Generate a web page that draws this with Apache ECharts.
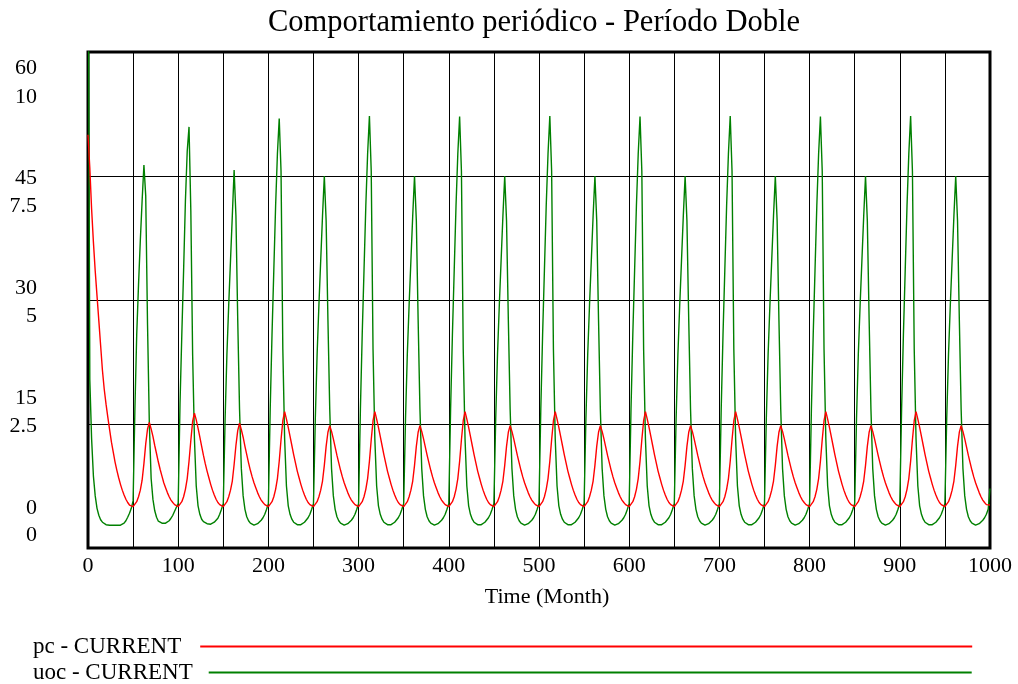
<!DOCTYPE html>
<html>
<head>
<meta charset="utf-8">
<title>Comportamiento periódico - Período Doble</title>
<script src="https://cdn.jsdelivr.net/npm/echarts@6/dist/echarts.min.js"></script>
<style>
  html, body { margin: 0; padding: 0; background: #fff; }
  #chart { width: 1018px; height: 684px; }
</style>
</head>
<body>
<div id="chart"></div>
<script>
// Simulation output sampled every 2 months, one row per 50-month cycle.
const SAMPLE_STEP = 2;

// pc (CURRENT run)
const pcValues = [
  50, 46, 41, 37, 33.5, 30.5, 27.5, 24.5, 21.5, 19.2, 17.4, 15.8, 14.3, 12.8, 11.6, 10.4, 9.4, 8.5, 7.7, 7.0, 6.4, 5.9, 5.5, 5.2, 5.05,
  5.0, 5.2, 5.6, 6.2, 7.0, 8.2, 10.2, 12.6, 14.4, 15.2, 14.4, 13.5, 12.4, 11.4, 10.4, 9.5, 8.7, 7.9, 7.3, 6.7, 6.2, 5.8, 5.5, 5.25, 5.08,
  5.0, 5.2, 5.6, 6.2, 7.1, 8.4, 10.5, 13.0, 15.3, 16.3, 15.5, 14.5, 13.4, 12.3, 11.2, 10.2, 9.3, 8.5, 7.7, 7.0, 6.4, 5.9, 5.5, 5.25, 5.08,
  5.0, 5.2, 5.6, 6.2, 7.0, 8.1, 10.1, 12.4, 14.2, 15.1, 14.3, 13.4, 12.3, 11.3, 10.3, 9.4, 8.6, 7.9, 7.3, 6.7, 6.2, 5.8, 5.5, 5.25, 5.08,
  5.0, 5.2, 5.6, 6.2, 7.1, 8.4, 10.5, 13.1, 15.4, 16.5, 15.6, 14.6, 13.5, 12.4, 11.3, 10.3, 9.3, 8.5, 7.7, 7.0, 6.4, 5.9, 5.5, 5.25, 5.08,
  5.0, 5.2, 5.6, 6.2, 7.0, 8.1, 10.0, 12.3, 14.0, 14.8, 14.1, 13.2, 12.2, 11.2, 10.3, 9.4, 8.6, 7.9, 7.3, 6.7, 6.2, 5.8, 5.5, 5.25, 5.08,
  5.0, 5.2, 5.6, 6.2, 7.1, 8.4, 10.5, 13.1, 15.4, 16.5, 15.6, 14.6, 13.5, 12.4, 11.3, 10.3, 9.3, 8.5, 7.7, 7.0, 6.4, 5.9, 5.5, 5.25, 5.08,
  5.0, 5.2, 5.6, 6.2, 7.0, 8.1, 10.0, 12.3, 14.0, 14.8, 14.1, 13.2, 12.2, 11.2, 10.3, 9.4, 8.6, 7.9, 7.3, 6.7, 6.2, 5.8, 5.5, 5.25, 5.08,
  5.0, 5.2, 5.6, 6.2, 7.1, 8.4, 10.5, 13.1, 15.4, 16.5, 15.6, 14.6, 13.5, 12.4, 11.3, 10.3, 9.3, 8.5, 7.7, 7.0, 6.4, 5.9, 5.5, 5.25, 5.08,
  5.0, 5.2, 5.6, 6.2, 7.0, 8.1, 10.0, 12.3, 14.0, 14.8, 14.1, 13.2, 12.2, 11.2, 10.3, 9.4, 8.6, 7.9, 7.3, 6.7, 6.2, 5.8, 5.5, 5.25, 5.08,
  5.0, 5.2, 5.6, 6.2, 7.1, 8.4, 10.5, 13.1, 15.4, 16.5, 15.6, 14.6, 13.5, 12.4, 11.3, 10.3, 9.3, 8.5, 7.7, 7.0, 6.4, 5.9, 5.5, 5.25, 5.08,
  5.0, 5.2, 5.6, 6.2, 7.0, 8.1, 10.0, 12.3, 14.0, 14.8, 14.1, 13.2, 12.2, 11.2, 10.3, 9.4, 8.6, 7.9, 7.3, 6.7, 6.2, 5.8, 5.5, 5.25, 5.08,
  5.0, 5.2, 5.6, 6.2, 7.1, 8.4, 10.5, 13.1, 15.4, 16.5, 15.6, 14.6, 13.5, 12.4, 11.3, 10.3, 9.3, 8.5, 7.7, 7.0, 6.4, 5.9, 5.5, 5.25, 5.08,
  5.0, 5.2, 5.6, 6.2, 7.0, 8.1, 10.0, 12.3, 14.0, 14.8, 14.1, 13.2, 12.2, 11.2, 10.3, 9.4, 8.6, 7.9, 7.3, 6.7, 6.2, 5.8, 5.5, 5.25, 5.08,
  5.0, 5.2, 5.6, 6.2, 7.1, 8.4, 10.5, 13.1, 15.4, 16.5, 15.6, 14.6, 13.5, 12.4, 11.3, 10.3, 9.3, 8.5, 7.7, 7.0, 6.4, 5.9, 5.5, 5.25, 5.08,
  5.0, 5.2, 5.6, 6.2, 7.0, 8.1, 10.0, 12.3, 14.0, 14.8, 14.1, 13.2, 12.2, 11.2, 10.3, 9.4, 8.6, 7.9, 7.3, 6.7, 6.2, 5.8, 5.5, 5.25, 5.08,
  5.0, 5.2, 5.6, 6.2, 7.1, 8.4, 10.5, 13.1, 15.4, 16.5, 15.6, 14.6, 13.5, 12.4, 11.3, 10.3, 9.3, 8.5, 7.7, 7.0, 6.4, 5.9, 5.5, 5.25, 5.08,
  5.0, 5.2, 5.6, 6.2, 7.0, 8.1, 10.0, 12.3, 14.0, 14.8, 14.1, 13.2, 12.2, 11.2, 10.3, 9.4, 8.6, 7.9, 7.3, 6.7, 6.2, 5.8, 5.5, 5.25, 5.08,
  5.0, 5.2, 5.6, 6.2, 7.1, 8.4, 10.5, 13.1, 15.4, 16.5, 15.6, 14.6, 13.5, 12.4, 11.3, 10.3, 9.3, 8.5, 7.7, 7.0, 6.4, 5.9, 5.5, 5.25, 5.08,
  5.0, 5.2, 5.6, 6.2, 7.0, 8.1, 10.0, 12.3, 14.0, 14.8, 14.1, 13.2, 12.2, 11.2, 10.3, 9.4, 8.6, 7.9, 7.3, 6.7, 6.2, 5.8, 5.5, 5.25, 5.08,
  5.2
];

// uoc (CURRENT run)
const uocValues = [
  14, 3.4, 2.2, 1.45, 1.05, 0.8, 0.66, 0.57, 0.52, 0.49, 0.47, 0.46, 0.46, 0.46, 0.46, 0.46, 0.46, 0.46, 0.46, 0.47, 0.5, 0.55, 0.62, 0.7, 0.8,
  0.95, 2.8, 4.3, 5.3, 6.2, 7.0, 7.72, 7.1, 4.5, 2.5, 1.4, 0.98, 0.75, 0.62, 0.54, 0.5, 0.5, 0.5, 0.5, 0.52, 0.55, 0.6, 0.66, 0.74, 0.82,
  0.9, 2.9, 4.3, 5.6, 7.0, 8.0, 8.49, 6.8, 3.9, 2.2, 1.25, 0.85, 0.68, 0.58, 0.53, 0.5, 0.49, 0.48, 0.48, 0.5, 0.52, 0.56, 0.6, 0.68, 0.78,
  0.9, 2.6, 3.9, 4.9, 5.8, 6.7, 7.62, 6.7, 4.6, 2.8, 1.6, 1.05, 0.78, 0.63, 0.55, 0.5, 0.47, 0.46, 0.47, 0.49, 0.52, 0.56, 0.61, 0.68, 0.78,
  0.9, 2.8, 4.3, 5.6, 6.9, 7.95, 8.66, 7.6, 4.0, 2.2, 1.25, 0.85, 0.68, 0.58, 0.52, 0.49, 0.47, 0.46, 0.47, 0.49, 0.52, 0.56, 0.61, 0.68, 0.78,
  0.9, 2.6, 3.9, 4.9, 5.8, 6.7, 7.5, 6.6, 4.6, 2.8, 1.6, 1.05, 0.78, 0.63, 0.55, 0.5, 0.47, 0.46, 0.47, 0.49, 0.52, 0.56, 0.61, 0.68, 0.78,
  0.9, 2.8, 4.3, 5.6, 6.9, 7.95, 8.71, 7.6, 4.0, 2.2, 1.25, 0.85, 0.68, 0.58, 0.52, 0.49, 0.47, 0.46, 0.47, 0.49, 0.52, 0.56, 0.61, 0.68, 0.78,
  0.9, 2.6, 3.9, 4.9, 5.8, 6.7, 7.5, 6.6, 4.6, 2.8, 1.6, 1.05, 0.78, 0.63, 0.55, 0.5, 0.47, 0.46, 0.47, 0.49, 0.52, 0.56, 0.61, 0.68, 0.78,
  0.9, 2.8, 4.3, 5.6, 6.9, 7.95, 8.7, 7.6, 4.0, 2.2, 1.25, 0.85, 0.68, 0.58, 0.52, 0.49, 0.47, 0.46, 0.47, 0.49, 0.52, 0.56, 0.61, 0.68, 0.78,
  0.9, 2.6, 3.9, 4.9, 5.8, 6.7, 7.5, 6.6, 4.6, 2.8, 1.6, 1.05, 0.78, 0.63, 0.55, 0.5, 0.47, 0.46, 0.47, 0.49, 0.52, 0.56, 0.61, 0.68, 0.78,
  0.9, 2.8, 4.3, 5.6, 6.9, 7.95, 8.71, 7.6, 4.0, 2.2, 1.25, 0.85, 0.68, 0.58, 0.52, 0.49, 0.47, 0.46, 0.47, 0.49, 0.52, 0.56, 0.61, 0.68, 0.78,
  0.9, 2.6, 3.9, 4.9, 5.8, 6.7, 7.5, 6.6, 4.6, 2.8, 1.6, 1.05, 0.78, 0.63, 0.55, 0.5, 0.47, 0.46, 0.47, 0.49, 0.52, 0.56, 0.61, 0.68, 0.78,
  0.9, 2.8, 4.3, 5.6, 6.9, 7.95, 8.7, 7.6, 4.0, 2.2, 1.25, 0.85, 0.68, 0.58, 0.52, 0.49, 0.47, 0.46, 0.47, 0.49, 0.52, 0.56, 0.61, 0.68, 0.78,
  0.9, 2.6, 3.9, 4.9, 5.8, 6.7, 7.5, 6.6, 4.6, 2.8, 1.6, 1.05, 0.78, 0.63, 0.55, 0.5, 0.47, 0.46, 0.47, 0.49, 0.52, 0.56, 0.61, 0.68, 0.78,
  0.9, 2.8, 4.3, 5.6, 6.9, 7.95, 8.71, 7.6, 4.0, 2.2, 1.25, 0.85, 0.68, 0.58, 0.52, 0.49, 0.47, 0.46, 0.47, 0.49, 0.52, 0.56, 0.61, 0.68, 0.78,
  0.9, 2.6, 3.9, 4.9, 5.8, 6.7, 7.5, 6.6, 4.6, 2.8, 1.6, 1.05, 0.78, 0.63, 0.55, 0.5, 0.47, 0.46, 0.47, 0.49, 0.52, 0.56, 0.61, 0.68, 0.78,
  0.9, 2.8, 4.3, 5.6, 6.9, 7.95, 8.7, 7.6, 4.0, 2.2, 1.25, 0.85, 0.68, 0.58, 0.52, 0.49, 0.47, 0.46, 0.47, 0.49, 0.52, 0.56, 0.61, 0.68, 0.78,
  0.9, 2.6, 3.9, 4.9, 5.8, 6.7, 7.5, 6.6, 4.6, 2.8, 1.6, 1.05, 0.78, 0.63, 0.55, 0.5, 0.47, 0.46, 0.47, 0.49, 0.52, 0.56, 0.61, 0.68, 0.78,
  0.9, 2.8, 4.3, 5.6, 6.9, 7.95, 8.71, 7.6, 4.0, 2.2, 1.25, 0.85, 0.68, 0.58, 0.52, 0.49, 0.47, 0.46, 0.47, 0.49, 0.52, 0.56, 0.61, 0.68, 0.78,
  0.9, 2.6, 3.9, 4.9, 5.8, 6.7, 7.5, 6.6, 4.6, 2.8, 1.6, 1.05, 0.78, 0.63, 0.55, 0.5, 0.47, 0.46, 0.47, 0.49, 0.52, 0.56, 0.61, 0.68, 0.78,
  1.2
];

// Tick labels of the two stacked value scales and of the time axis
const pcTicks = [0, 15, 30, 45, 60];
const uocTicks = [0, 2.5, 5, 7.5, 10];
const timeTicks = [0, 100, 200, 300, 400, 500, 600, 700, 800, 900, 1000];

const seriesNames = ['pc - CURRENT', 'uoc - CURRENT'];
const titleText = 'Comportamiento periódico - Período Doble';
const timeAxisName = 'Time (Month)';

const months = pcValues.map((_, i) => i * SAMPLE_STEP);
const pcData = months.map((t, i) => [t, pcValues[i]]);
const uocData = months.map((t, i) => [t, uocValues[i]]);

const FONT = 'Liberation Serif';
const chart = echarts.init(document.getElementById('chart'), null, { renderer: 'canvas' });

const labelAxisBase = {
  type: 'value',
  position: 'left',
  axisLine: { show: false },
  axisTick: { show: false },
  splitLine: { show: false },
  axisLabel: {
    margin: 51,
    color: '#000',
    fontFamily: FONT,
    fontSize: 22,
    showMinLabel: true,
    showMaxLabel: true
  }
};

chart.setOption({
  animation: false,
  backgroundColor: '#fff',
  title: {
    text: titleText,
    left: 268,
    top: 7,
    padding: 0,
    textStyle: { fontFamily: FONT, fontSize: 30.5, fontWeight: 'normal', color: '#000' }
  },
  legend: [
    {
      data: [seriesNames[0]],
      left: 33,
      top: 635,
      padding: 0,
      align: 'right',
      icon: 'rect',
      itemWidth: 772,
      itemHeight: 2,
      textStyle: { fontFamily: FONT, fontSize: 23, color: '#000', padding: [0, 14, 0, 0] },
      selectedMode: false
    },
    {
      data: [seriesNames[1]],
      left: 33,
      top: 661,
      padding: 0,
      align: 'right',
      icon: 'rect',
      itemWidth: 763,
      itemHeight: 2,
      textStyle: { fontFamily: FONT, fontSize: 23, color: '#000', padding: [0, 11, 0, 0] },
      selectedMode: false
    }
  ],
  grid: {
    left: 88,
    right: 28,
    top: 52,
    bottom: 136,
    show: true,
    borderColor: '#000',
    borderWidth: 3,
    backgroundColor: 'transparent'
  },
  xAxis: {
    type: 'value',
    min: 0,
    max: 1000,
    interval: 50,
    name: timeAxisName,
    nameLocation: 'middle',
    nameGap: 38,
    nameTextStyle: { fontFamily: FONT, fontSize: 22, color: '#000', padding: [0, 0, 0, 16] },
    axisLine: { show: false },
    axisTick: { show: false },
    splitLine: { show: true, lineStyle: { color: '#000', width: 1 } },
    axisLabel: {
      margin: 7,
      color: '#000',
      fontFamily: FONT,
      fontSize: 22,
      formatter: v => (timeTicks.indexOf(v) >= 0 ? String(v) : '')
    }
  },
  yAxis: [
    {
      // pc scale, carries the horizontal grid
      type: 'value',
      min: 0,
      max: 60,
      interval: 15,
      position: 'left',
      axisLine: { show: false },
      axisTick: { show: false },
      axisLabel: { show: false },
      splitLine: { show: true, lineStyle: { color: '#000', width: 1 } }
    },
    {
      // uoc scale
      type: 'value',
      min: 0,
      max: 10,
      show: false,
      splitLine: { show: false }
    },
    Object.assign({}, labelAxisBase, {
      // pc labels, evenly stacked in the upper row
      min: -5.36,
      max: 62.27,
      axisLabel: Object.assign({}, labelAxisBase.axisLabel, { customValues: pcTicks })
    }),
    Object.assign({}, labelAxisBase, {
      // uoc labels, one row lower
      min: -0.289,
      max: 11.026,
      axisLabel: Object.assign({}, labelAxisBase.axisLabel, { customValues: uocTicks })
    })
  ],
  series: [
    {
      name: seriesNames[0],
      type: 'line',
      yAxisIndex: 0,
      data: pcData,
      showSymbol: false,
      symbol: 'none',
      color: '#ff0000',
      lineStyle: { color: '#ff0000', width: 1.4 },
      clip: true,
      z: 3
    },
    {
      name: seriesNames[1],
      type: 'line',
      yAxisIndex: 1,
      data: uocData,
      showSymbol: false,
      symbol: 'none',
      color: '#008000',
      lineStyle: { color: '#008000', width: 1.4 },
      clip: true,
      z: 2
    }
  ]
});
</script>
</body>
</html>
